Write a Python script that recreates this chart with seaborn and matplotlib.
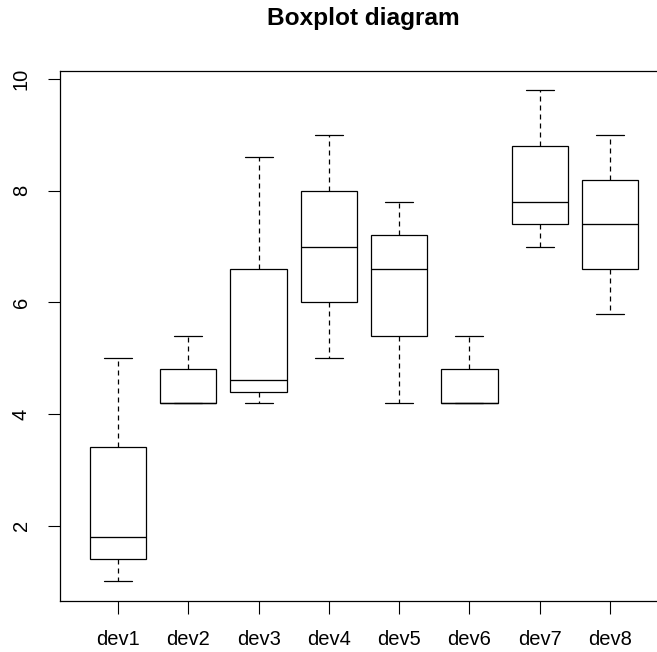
import numpy as np
import pandas as pd
import matplotlib
matplotlib.use("Agg")
import matplotlib.pyplot as plt
import seaborn as sns

# Scores per developer (five observations each)
devices = ["dev1", "dev2", "dev3", "dev4", "dev5", "dev6", "dev7", "dev8"]
dev1 = [1.0, 1.4, 1.8, 3.4, 5.0]
dev2 = [4.2, 4.2, 4.2, 4.8, 5.4]
dev3 = [4.2, 4.4, 4.6, 6.6, 8.6]
dev4 = [5.0, 6.0, 7.0, 8.0, 9.0]
dev5 = [4.2, 5.4, 6.6, 7.2, 7.8]
dev6 = [4.2, 4.2, 4.2, 4.8, 5.4]
dev7 = [7.0, 7.4, 7.8, 8.8, 9.8]
dev8 = [5.8, 6.6, 7.4, 8.2, 9.0]
y_ticks = [2, 4, 6, 8, 10]

series = [dev1, dev2, dev3, dev4, dev5, dev6, dev7, dev8]
df = pd.DataFrame({
    "device": np.repeat(devices, [len(s) for s in series]),
    "value": np.concatenate(series),
})

sns.set_theme(style="white")
plt.rcParams["font.family"] = ["Liberation Sans", "DejaVu Sans"]

fig = plt.figure(figsize=(6.57, 6.52), dpi=100)
ax = fig.add_axes([60 / 657, 1 - 601 / 652, 608 / 657, (601 - 70.7) / 652])

sns.boxplot(
    data=df, x="device", y="value", order=devices, ax=ax,
    color="white", linecolor="black", linewidth=0.9, width=0.8, whis=1.5,
    whiskerprops={"linestyle": (0, (4, 3.2))},
    medianprops={"linewidth": 0.95},
)

ax.set_xlim(-0.826, 7.826)
ax.set_ylim(0.648, 10.152)
ax.set_yticks(y_ticks)
ax.set_yticklabels([str(t) for t in y_ticks], rotation=90, va="center")
ax.set_xlabel("")
ax.set_ylabel("")
for side in ["left", "bottom", "top", "right"]:
    ax.spines[side].set_visible(True)
    ax.spines[side].set_color("black")
    ax.spines[side].set_linewidth(0.9)
ax.tick_params(axis="both", which="both", direction="out", length=9,
               width=0.8, color="black", labelsize=14.5, labelcolor="black",
               pad=12, left=True, bottom=True)

fig.text(363 / 657, 1 - 18 / 652, "Boxplot diagram", ha="center", va="center",
         fontsize=17.6, fontweight="bold", color="black")

fig.savefig("out.png", dpi=100, facecolor="white")
